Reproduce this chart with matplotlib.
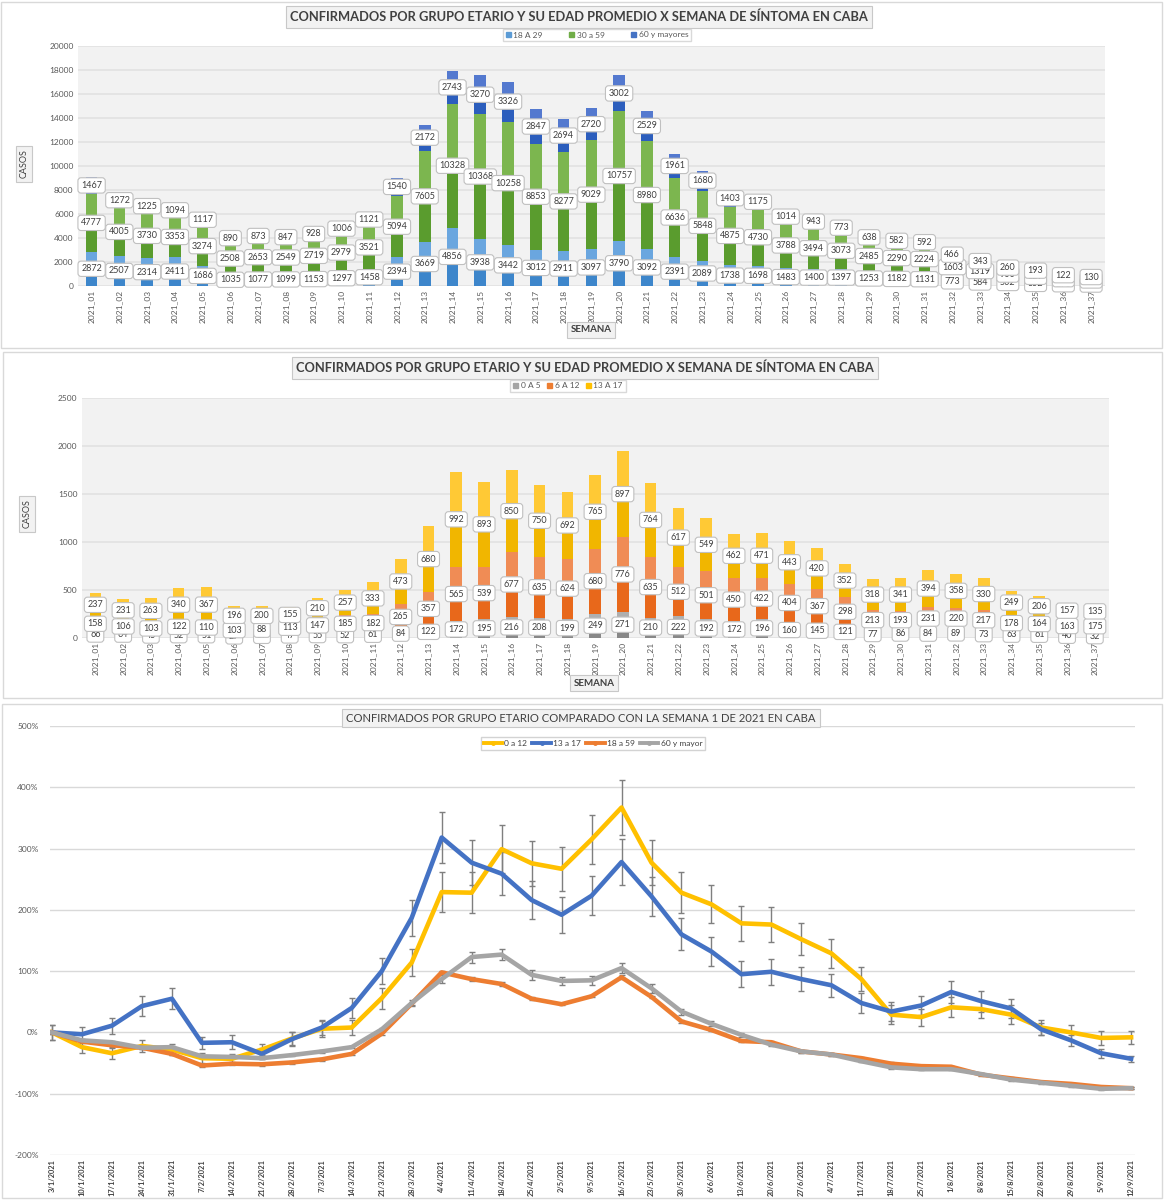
import numpy as np
import matplotlib
matplotlib.use("Agg")
import matplotlib.pyplot as plt
from matplotlib.patches import Rectangle, Patch
from matplotlib.lines import Line2D

plt.rcParams['font.family'] = ['Lato', 'DejaVu Sans']

W, H = 1164, 1200

# ---- data: confirmados por semana ----
semanas = [f"2021_{i:02d}" for i in range(1, 38)]

g18_29 = [2872, 2507, 2314, 2411, 1686, 1035, 1077, 1099, 1153, 1297, 1458, 2394, 3669,
          4856, 3938, 3442, 3012, 2911, 3097, 3790, 3092, 2391, 2089, 1738, 1698, 1483,
          1400, 1397, 1253, 1182, 1131, 773, 584, 502, 352, 290, 240]
g30_59 = [4777, 4005, 3730, 3353, 3274, 2508, 2653, 2549, 2719, 2979, 3521, 5094, 7605,
          10328, 10368, 10258, 8853, 8277, 9029, 10757, 8980, 6636, 5848, 4875, 4730, 3788,
          3494, 3073, 2485, 2290, 2224, 1603, 1319, 900, 829, 550, 440]
g60 = [1467, 1272, 1225, 1094, 1117, 890, 873, 847, 928, 1006, 1121, 1540, 2172, 2743,
       3270, 3326, 2847, 2694, 2720, 3002, 2529, 1961, 1680, 1403, 1175, 1014, 943, 773,
       638, 582, 592, 466, 343, 260, 193, 122, 130]

g0_5 = [66, 64, 45, 52, 51, 27, 39, 47, 55, 52, 61, 84, 122, 172, 195, 216, 208, 199, 249,
        271, 210, 222, 192, 172, 196, 160, 145, 121, 77, 86, 84, 89, 73, 63, 61, 40, 32]
g6_12 = [158, 106, 103, 122, 110, 103, 88, 113, 147, 185, 182, 265, 357, 565, 539, 677, 635,
         624, 680, 776, 635, 512, 501, 450, 422, 404, 367, 298, 213, 193, 231, 220, 217,
         178, 164, 163, 175]
g13_17 = [237, 231, 263, 340, 367, 196, 200, 155, 210, 257, 333, 473, 680, 992, 893, 850,
          750, 692, 765, 897, 764, 617, 549, 462, 471, 443, 420, 352, 318, 341, 394, 358,
          330, 249, 206, 157, 135]

# ---- data: variacion % respecto a semana 1 ----
fechas = ["3/1/2021", "10/1/2021", "17/1/2021", "24/1/2021", "31/1/2021", "7/2/2021",
          "14/2/2021", "21/2/2021", "28/2/2021", "7/3/2021", "14/3/2021", "21/3/2021",
          "28/3/2021", "4/4/2021", "11/4/2021", "18/4/2021", "25/4/2021", "2/5/2021",
          "9/5/2021", "16/5/2021", "23/5/2021", "30/5/2021", "6/6/2021", "13/6/2021",
          "20/6/2021", "27/6/2021", "4/7/2021", "11/7/2021", "18/7/2021", "25/7/2021",
          "1/8/2021", "8/8/2021", "15/8/2021", "22/8/2021", "29/8/2021", "5/9/2021",
          "12/9/2021"]

pct_0_12 = [0, -24, -34, -22, -28, -42, -43, -28, -10, 6, 8, 56, 114, 229, 228, 299, 276,
            267, 315, 367, 277, 228, 209, 178, 176, 152, 129, 87, 29, 25, 41, 38, 29, 8, 0,
            -9, -8]
pct_13_17 = [0, -3, 11, 43, 55, -17, -16, -35, -11, 8, 40, 100, 187, 318, 277, 259, 216,
             192, 223, 278, 222, 160, 132, 95, 99, 87, 77, 48, 34, 44, 66, 51, 39, 5, -13,
             -34, -43]
pct_18_59 = [0, -15, -21, -25, -35, -54, -51, -52, -49, -44, -35, -2, 47, 98, 87, 79, 55,
             46, 59, 90, 58, 18, 4, -14, -16, -31, -36, -42, -51, -55, -56, -69, -75, -81,
             -84, -89, -91]
pct_60 = [0, -13, -16, -25, -24, -39, -40, -42, -37, -31, -24, 5, 48, 87, 123, 127, 94, 84,
          85, 105, 72, 34, 14, -4, -20, -31, -36, -47, -57, -60, -60, -68, -77, -82, -87,
          -92, -91]

err_0_12 = [12, 10, 9, 10, 9, 8, 8, 9, 11, 13, 13, 17, 22, 33, 33, 39, 37, 36, 40, 45, 37,
            33, 31, 28, 28, 26, 24, 20, 15, 14, 16, 15, 15, 13, 12, 11, 11]
err_13_17 = [12, 12, 13, 16, 17, 10, 11, 9, 11, 13, 16, 21, 29, 41, 37, 35, 31, 29, 32, 37,
             32, 26, 24, 21, 21, 20, 19, 16, 15, 16, 18, 17, 16, 10, 9, 7, 5]
err_18_59 = [2, 2, 2, 2, 2, 2, 2, 2, 2, 2, 2, 2, 2, 3, 3, 3, 2, 2, 2, 3, 2, 2, 2, 2, 2, 2,
             2, 2, 2, 2, 2, 2, 2, 2, 2, 2, 2]
err_60 = [3, 2, 2, 2, 2, 2, 2, 2, 2, 2, 2, 3, 5, 7, 9, 9, 8, 7, 7, 8, 7, 5, 4, 3, 2, 2, 2,
          2, 2, 2, 2, 2, 2, 2, 2, 2, 2]


def px_axes(left, top, right, bottom):
    return fig.add_axes([left / W, 1 - bottom / H, (right - left) / W, (bottom - top) / H])


def boxed_text(x, y, s, **kw):
    kw.setdefault('bbox', dict(boxstyle='square,pad=0.35', fc='#f2f2f2', ec='#c8c8c8', lw=0.8))
    fig.text(x / W, 1 - y / H, s, ha='center', va='center', color='#404040', **kw)


def stacked_bars(ax, series, colors, ymax, step):
    x = np.arange(len(semanas))
    bottom = np.zeros(len(x))
    for k, (vals, (dark, light)) in enumerate(zip(series, colors)):
        vals = np.array(vals, float)
        ax.bar(x, vals / 2, 0.42, bottom=bottom, color=dark, zorder=2)
        ax.bar(x, vals / 2, 0.42, bottom=bottom + vals / 2, color=light, zorder=2)
        for xi, b, v in zip(x, bottom, vals):
            ax.text(xi, b + v / 2, f"{int(v)}", ha='center', va='center', fontsize=6.5,
                    color='#404040', zorder=5 + k,
                    bbox=dict(boxstyle='round,pad=0.35', fc='white', ec='#c0c0c0', lw=0.8))
        bottom += vals
    ax.set_facecolor('#f2f2f2')
    ax.set_xlim(-0.5, len(x) - 0.5)
    ax.set_ylim(0, ymax)
    ax.set_yticks(np.arange(0, ymax + 1, step))
    ax.set_xticks(x, semanas, rotation=90)
    ax.tick_params(length=0, labelsize=6, labelcolor='#595959', pad=3)
    ax.grid(axis='y', color='#e2e2e2', lw=1.2, zorder=0)
    for s in ax.spines.values():
        s.set_visible(False)


fig = plt.figure(figsize=(W / 100, H / 100), dpi=100)

# panel frames
for (l, t, r, b) in [(1, 2, 1162, 348), (3, 352, 1162, 698), (2, 704, 1162, 1198)]:
    fig.patches.append(Rectangle((l / W, 1 - b / H), (r - l) / W, (b - t) / H,
                                 transform=fig.transFigure, fill=False, ec='#d9d9d9', lw=1))

# ---- chart 1 ----
ax1 = px_axes(77.7, 46, 1105, 286)
stacked_bars(ax1, [g18_29, g30_59, g60],
             [('#3d86cb', '#6aa6df'), ('#5a9c2e', '#7cb64f'), ('#2c5ebd', '#5479cf')],
             20000, 2000)
boxed_text(579, 17, "CONFIRMADOS POR GRUPO ETARIO Y SU EDAD PROMEDIO X SEMANA DE SÍNTOMA EN CABA",
           fontsize=9.3, fontweight='bold')
boxed_text(24, 164, "CASOS", fontsize=6.5, rotation=90)
boxed_text(591, 330, "SEMANA", fontsize=7, fontweight='bold')
fig.legend(handles=[Patch(color='#5b9bd5', label='18 A 29'),
                    Patch(color='#70ad47', label='30 a 59'),
                    Patch(color='#4472c4', label='60 y mayores')],
           loc='center', bbox_to_anchor=(597 / W, 1 - 35 / H), ncol=3, fontsize=6,
           frameon=True, fancybox=False, edgecolor='#d0d0d0', handlelength=0.6,
           handleheight=0.6, handletextpad=0.3, columnspacing=3.2, borderpad=0.35,
           labelcolor='#595959')

# ---- chart 2 ----
ax2 = px_axes(81.5, 397.7, 1108.7, 637.7)
stacked_bars(ax2, [g0_5, g6_12, g13_17],
             [('#888888', '#afafaf'), ('#e8681b', '#f08c55'), ('#f1b600', '#ffc935')],
             2500, 500)
boxed_text(585, 368, "CONFIRMADOS POR GRUPO ETARIO Y SU EDAD PROMEDIO X SEMANA DE SÍNTOMA EN CABA",
           fontsize=9.3, fontweight='bold')
boxed_text(27, 514, "CASOS", fontsize=6.5, rotation=90)
boxed_text(594, 683, "SEMANA", fontsize=7, fontweight='bold')
fig.legend(handles=[Patch(color='#a5a5a5', label='0 A 5'),
                    Patch(color='#ed7d31', label='6 A 12'),
                    Patch(color='#ffc000', label='13 A 17')],
           loc='center', bbox_to_anchor=(568 / W, 1 - 386 / H), ncol=3, fontsize=6,
           frameon=True, fancybox=False, edgecolor='#d0d0d0', handlelength=0.6,
           handleheight=0.6, handletextpad=0.3, columnspacing=0.8, borderpad=0.35,
           labelcolor='#595959')

# ---- chart 3 ----
ax3 = px_axes(49.7, 726, 1135, 1155)
x = np.arange(len(fechas))
lineas = [(pct_0_12, err_0_12, '#ffc000', '0 a 12'),
          (pct_13_17, err_13_17, '#4472c4', '13 a 17'),
          (pct_18_59, err_18_59, '#ed7d31', '18 a 59'),
          (pct_60, err_60, '#a5a5a5', '60 y mayor')]
handles = []
for vals, err, col, lab in lineas:
    ax3.errorbar(x, vals, yerr=err, color=col, lw=3.3, ecolor='#7f7f7f', elinewidth=1,
                 capsize=2.2, capthick=1, zorder=3)
    handles.append(Line2D([], [], color=col, lw=2.8, marker='o', ms=2.5, label=lab))
ax3.set_xlim(-0.077, 36.13)
ax3.set_ylim(-200, 500)
ax3.set_yticks(np.arange(-200, 501, 100))
ax3.set_yticklabels([f"{v}%" for v in range(-200, 501, 100)])
ax3.set_xticks(x, fechas, rotation=90, fontweight='bold')
ax3.tick_params(axis='y', length=0, labelsize=6, labelcolor='#595959', pad=8)
ax3.tick_params(axis='x', length=0, labelsize=5.3, labelcolor='#404040', pad=3)
ax3.grid(axis='y', color='#d9d9d9', lw=1, zorder=0)
for s in ax3.spines.values():
    s.set_visible(False)
boxed_text(581, 718, "CONFIRMADOS POR GRUPO ETARIO COMPARADO CON LA SEMANA 1 DE 2021 EN CABA",
           fontsize=8.1)
fig.legend(handles=handles, loc='center', bbox_to_anchor=(593 / W, 1 - 743.5 / H), ncol=4,
           fontsize=6, frameon=True, fancybox=False, edgecolor='#c8c8c8', handlelength=2.2,
           handletextpad=0.3, columnspacing=0.6, borderpad=0.35, labelcolor='#404040')

fig.savefig("out.png", dpi=100)
